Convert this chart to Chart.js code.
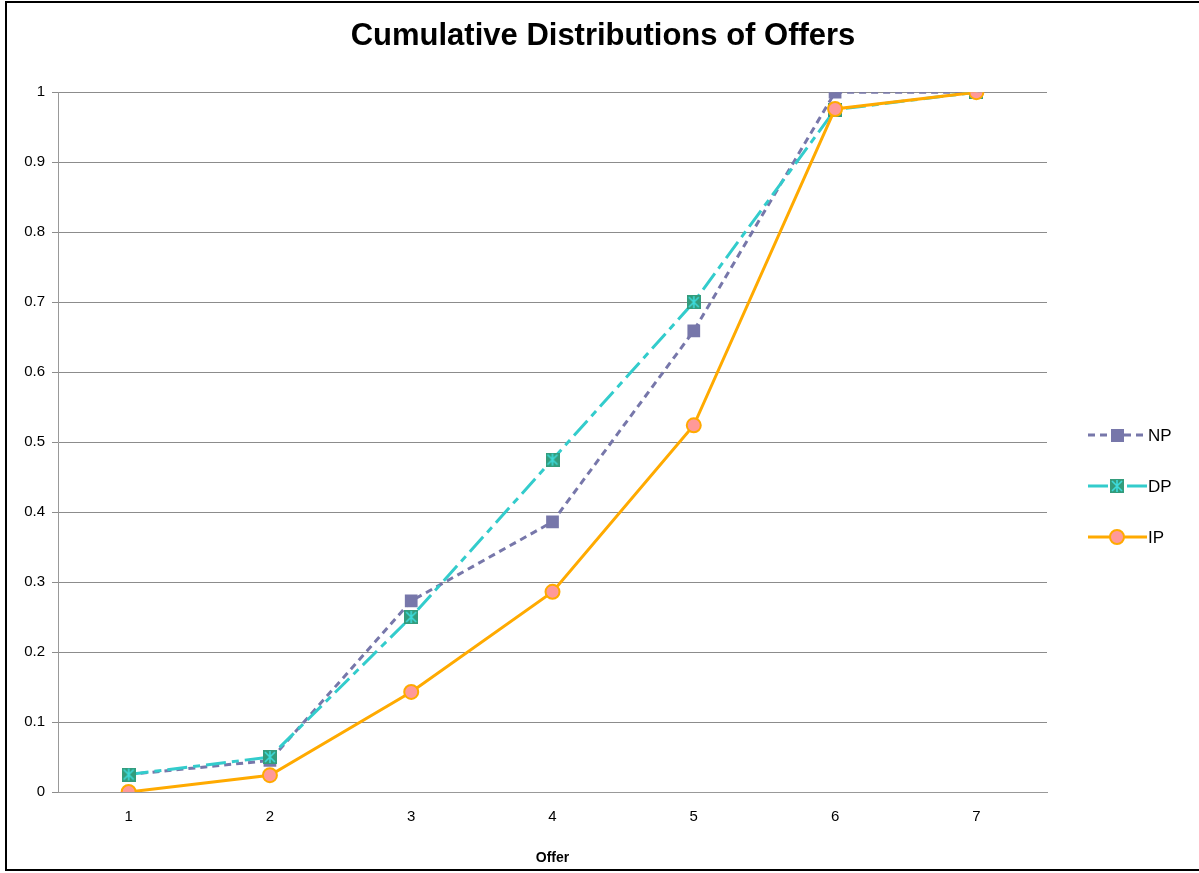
<!DOCTYPE html>
<html>
<head>
<meta charset="utf-8">
<script src="https://cdn.jsdelivr.net/npm/chart.js@4.4.1/dist/chart.umd.min.js"></script>
<style>
  html, body { margin: 0; background: #fff; overflow: hidden; }
  #frame { position: absolute; left: 5px; top: 1px; width: 1500px; height: 866px; border: 2px solid #000; border-right: none; }
  #wrap { position: absolute; left: 7px; top: 3px; width: 1192px; height: 870px; }
</style>
</head>
<body>
<div id="frame"></div>
<div id="wrap"><canvas id="myChart"></canvas></div>
<script>
// offers on the x axis
var offers = ['1', '2', '3', '4', '5', '6', '7']
var np = [0.025, 0.045, 0.273, 0.386, 0.659, 1.0, 1.0]
var dp = [0.025, 0.05, 0.25, 0.475, 0.70, 0.975, 1.0]
var ip = [0.0, 0.024, 0.143, 0.286, 0.524, 0.976, 1.0]
var yTicks = [0, 0.1, 0.2, 0.3, 0.4, 0.5, 0.6, 0.7, 0.8, 0.9, 1]

function dpMarker() {
  var c = document.createElement('canvas')
  c.width = 14; c.height = 14
  var g = c.getContext('2d')
  g.fillStyle = '#339c7c'
  g.fillRect(0, 0, 14, 14)
  g.strokeStyle = '#3ddada'
  g.lineWidth = 1.6
  g.beginPath()
  g.moveTo(2, 2); g.lineTo(12, 12)
  g.moveTo(12, 2); g.lineTo(2, 12)
  g.moveTo(7, 1); g.lineTo(7, 13)
  g.stroke()
  return c
}
var dpImg = dpMarker()

var series = [
  { label: 'NP', color: '#7777aa', dash: [7, 5] },
  { label: 'DP', color: '#33cccc', dash: [20, 6, 7, 6] },
  { label: 'IP', color: '#ffaa00', dash: [] }
]

// legend drawn by hand, line + marker like the original
var legendPlugin = {
  id: 'sideLegend',
  afterDraw: function(chart) {
    var ctx = chart.ctx
    var ys = [432, 483, 534]
    ctx.save()
    series.forEach(function(s, i) {
      var y = ys[i]
      ctx.strokeStyle = s.color
      ctx.lineWidth = 3
      ctx.setLineDash(s.dash)
      ctx.beginPath()
      ctx.moveTo(1081, y)
      ctx.lineTo(1140, y)
      ctx.stroke()
      ctx.setLineDash([])
      if (i == 0) {
        ctx.fillStyle = s.color
        ctx.fillRect(1104, y - 6, 13, 13)
      } else if (i == 1) {
        ctx.drawImage(dpImg, 1103, y - 7)
      } else {
        ctx.beginPath()
        ctx.arc(1110, y, 7, 0, Math.PI * 2)
        ctx.fillStyle = '#ff9999'
        ctx.fill()
        ctx.lineWidth = 2
        ctx.strokeStyle = '#ffaa00'
        ctx.stroke()
      }
      ctx.fillStyle = '#000'
      ctx.font = '17px Arial, "Liberation Sans"'
      ctx.textBaseline = 'middle'
      ctx.fillText(s.label, 1141, y + 1)
    })
    ctx.restore()
  }
}

const ctx = document.getElementById('myChart')

new Chart(ctx, {
  type: 'line',
  data: {
    labels: offers,
    datasets: [{
      label: 'NP',
      data: np,
      borderColor: '#7777aa',
      backgroundColor: '#7777aa',
      borderWidth: 3,
      borderDash: [7, 5],
      pointStyle: 'rect',
      pointRadius: 9,
      pointBorderWidth: 0,
      order: 2
    }, {
      label: 'DP',
      data: dp,
      borderColor: '#33cccc',
      backgroundColor: '#339c7c',
      borderWidth: 3,
      borderDash: [20, 6, 7, 6],
      pointStyle: dpImg,
      order: 1
    }, {
      label: 'IP',
      data: ip,
      borderColor: '#ffaa00',
      backgroundColor: '#ff9999',
      borderWidth: 3,
      pointStyle: 'circle',
      pointRadius: 7,
      pointBorderWidth: 2,
      pointBorderColor: '#ffaa00',
      order: 0
    }]
  },
  options: {
    responsive: true,
    maintainAspectRatio: false,
    animation: false,
    layout: { padding: 0 },
    plugins: {
      legend: { display: false },
      tooltip: { enabled: false },
      title: {
        display: true,
        text: 'Cumulative Distributions of Offers',
        color: '#000',
        font: { family: 'Arial, "Liberation Sans"', size: 31, weight: 'bold' },
        padding: { top: 15, bottom: 37 }
      }
    },
    scales: {
      x: {
        offset: true,
        grid: { display: false, drawTicks: false },
        border: { display: true, color: '#999999', width: 1 },
        ticks: { color: '#000', font: { family: 'Arial, "Liberation Sans"', size: 15 }, padding: 16 },
        title: {
          display: true,
          text: 'Offer',
          color: '#000',
          font: { family: 'Arial, "Liberation Sans"', size: 14, weight: 'bold' },
          padding: { top: 0, bottom: 6 }
        },
        afterFit: function(scale) { scale.height = 81 }
      },
      y: {
        min: 0,
        max: 1,
        afterBuildTicks: function(scale) {
          scale.ticks = yTicks.map(function(v) { return { value: v } })
        },
        grid: { color: '#8c8c8c', lineWidth: 1, tickLength: 6, tickColor: '#8c8c8c' },
        border: { display: true, color: '#999999', width: 1 },
        ticks: {
          color: '#000',
          font: { family: 'Arial, "Liberation Sans"', size: 15 },
          padding: 7,
          callback: function(v) { return String(Math.round(v * 10) / 10) }
        },
        afterFit: function(scale) { scale.width = 51 }
      },
      // empty axis on the right, only keeps room for the legend
      side: {
        position: 'right',
        min: 0,
        max: 1,
        grid: { drawOnChartArea: false, drawTicks: false },
        border: { display: false },
        ticks: { display: false },
        afterFit: function(scale) { scale.width = 152 }
      }
    }
  },
  plugins: [legendPlugin]
});
</script>
</body>
</html>
